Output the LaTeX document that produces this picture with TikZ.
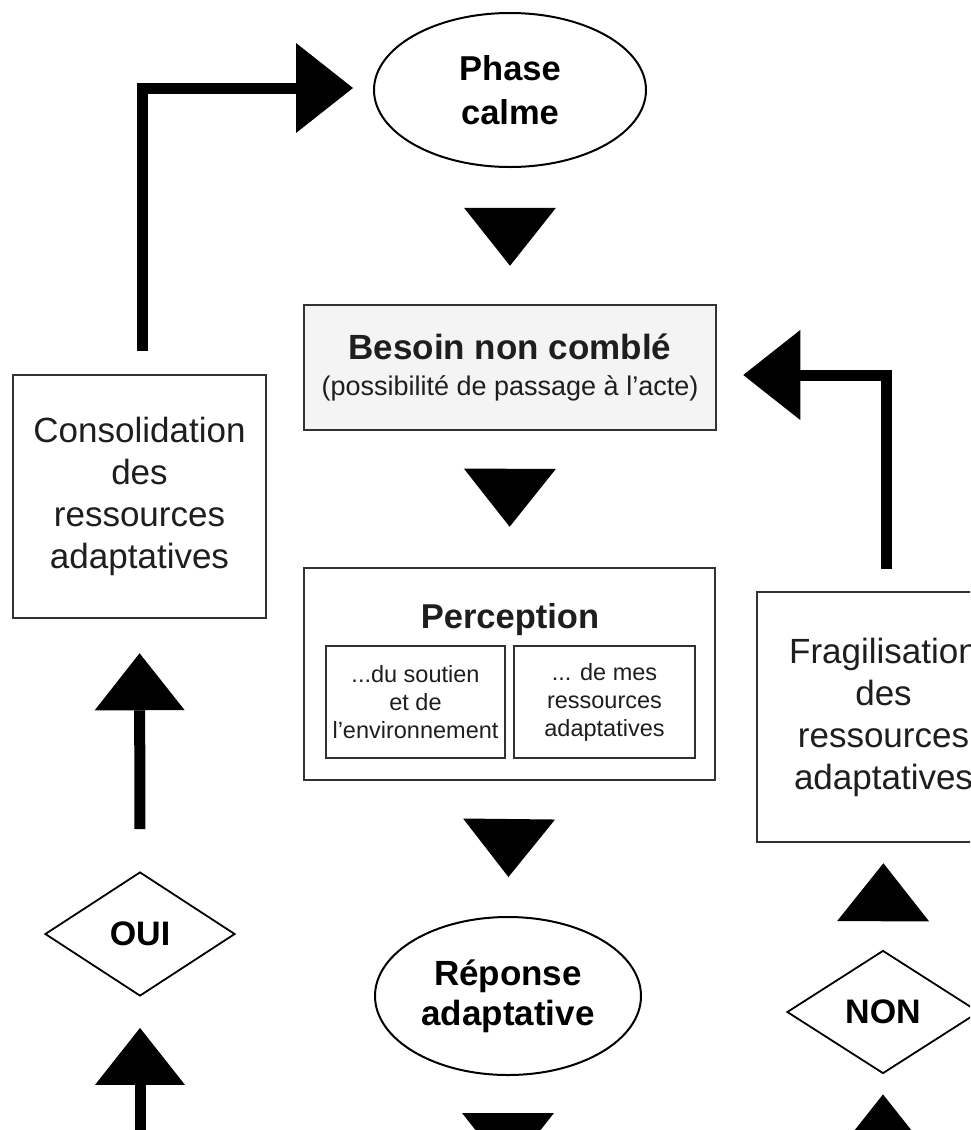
\documentclass[tikz,border=0pt]{standalone}
\usepackage{fontspec}
\setmainfont{Liberation Sans}
\usetikzlibrary{shapes.geometric,arrows.meta,calc}
\definecolor{boxgray}{RGB}{50,50,50}
\definecolor{txtgray}{RGB}{30,30,30}
\definecolor{besoinfill}{RGB}{244,244,244}
\newcommand{\straightapos}{\char39\relax}
\begin{document}
\begin{tikzpicture}[x=1pt,y=-1pt,
  box/.style={rectangle, draw=boxgray, line width=2.5pt, inner sep=0pt, align=center, text=txtgray},
  inbox/.style={rectangle, draw=boxgray, line width=2.5pt, inner sep=0pt, align=center, text=txtgray,
    minimum height=112pt, font=\fontsize{23.5}{28}\selectfont},
  ell/.style={ellipse, draw=black, line width=2pt, inner sep=0pt, align=center,
    font=\fontsize{34.5}{44}\selectfont\bfseries},
  dia/.style={diamond, draw=black, line width=1.8pt, inner sep=0pt,
    font=\fontsize{34}{34}\selectfont\bfseries},
  conn/.style={draw=black, line width=11pt, -{Triangle[length=57pt,width=90pt,line width=0pt]}},
  tri/.style={draw=black, line width=0.1pt, -{Triangle[length=58pt,width=92pt,line width=0pt]}}
]
\useasboundingbox (0,0) rectangle (970,1130);
\fill[white] (0,0) rectangle (970,1130);
\clip (0,0) rectangle (970,1130);

% centre column
\node[ell, minimum width=272pt, minimum height=154pt] (phase) at (510,90) {Phase\\calme};

\node[box, fill=besoinfill, minimum width=412pt, minimum height=125pt,
  font=\fontsize{27}{36}\selectfont] (besoin) at (510,367.5)
  {{\fontsize{35}{35}\selectfont\bfseries Besoin non comblé}\\(possibilité de passage à l\straightapos acte)};

\node[box, minimum width=411pt, minimum height=212pt] (perception) at (509.5,674) {};
\node[anchor=base, font=\fontsize{34.5}{34.5}\selectfont\bfseries, text=txtgray] (ptitle) at (510,628) {Perception};
\node[inbox, minimum width=179pt] (soutien) at (415.5,702) {...du soutien\\et de\\l\straightapos environnement};
\node[inbox, minimum width=181pt] (mesres) at (604.5,702) {... de mes\\ressources\\adaptatives};

\node[ell, minimum width=266pt, minimum height=158pt, font=\fontsize{35}{40}\selectfont\bfseries] (reponse) at (508,996) {Réponse\\adaptative};

% left column
\node[box, minimum width=253pt, minimum height=243pt, font=\fontsize{35}{42}\selectfont] (consolidation) at (139.5,496.5)
  {Consolidation\\des\\ressources\\adaptatives};
\node[dia, minimum width=190pt, minimum height=124pt] (oui) at (140,934) {OUI};

% right column
\node[box, minimum width=253pt, minimum height=250pt, font=\fontsize{35}{42}\selectfont] (fragil) at (883.5,717)
  {Fragilisation\\des\\ressources\\adaptatives};
\node[dia, minimum width=192pt, minimum height=123pt] (non) at (883,1012) {NON};

\coordinate (ouiin) at (140,1200);
\coordinate (repout) at (508,1171);
\coordinate (nonin) at (883,1151);

% connectors
\draw[conn, shorten <=23pt, shorten >=20pt] ($(consolidation.north)+(2.5,0)$) |- ($(phase.west)+(0,-2)$);
\draw[conn, shorten <=22pt, shorten >=26pt] ($(fragil.north)+(2.5,0)$) |- ($(besoin.east)+(0,7.5)$);
\draw[conn, shorten <=42pt, shorten >=34pt] (oui.north) -- (consolidation.south);
\draw[conn, shorten >=31pt] (ouiin) -- (oui.south);

\path[tri, shorten <=41pt, shorten >=38pt] (phase.south) -- (besoin.north);
\path[tri, shorten <=40pt, shorten >=40pt] (besoin.south) -- (perception.north);
\path[tri, shorten <=40pt, shorten >=39pt] (perception.south) -- (reponse.north);
\path[tri, shorten <=38pt] (reponse.south) -- (repout);
\path[tri, shorten <=31pt, shorten >=20pt] (non.north) -- (fragil.south);
\path[tri, shorten >=20pt] (nonin) -- (non.south);
\end{tikzpicture}
\end{document}
